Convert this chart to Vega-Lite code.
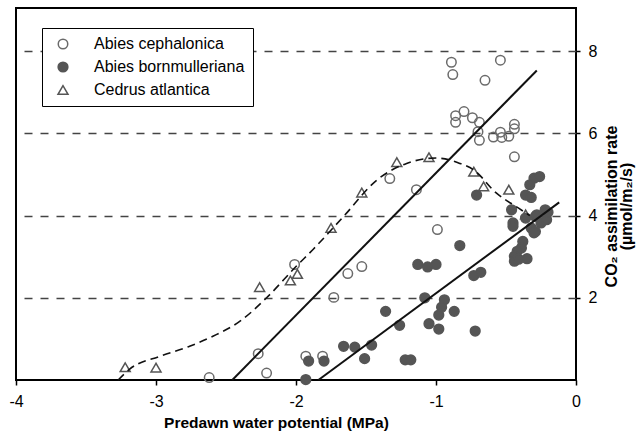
{
  "$schema": "https://vega.github.io/schema/vega-lite/v6.json",
  "width": 560,
  "height": 372,
  "autosize": {"type": "none"},
  "padding": {"left": 16, "top": 8, "right": 64, "bottom": 57},
  "config": {
    "font": "Liberation Sans",
    "view": {"stroke": "#000000", "strokeWidth": 2}
  },
  "datasets": {
    "obs": [
      {"species": "Abies cephalonica", "psi": -0.89, "a": 7.73},
      {"species": "Abies cephalonica", "psi": -0.88, "a": 7.43},
      {"species": "Abies cephalonica", "psi": -0.54, "a": 7.78},
      {"species": "Abies cephalonica", "psi": -0.65, "a": 7.29},
      {"species": "Abies cephalonica", "psi": -0.86, "a": 6.43},
      {"species": "Abies cephalonica", "psi": -0.80, "a": 6.53},
      {"species": "Abies cephalonica", "psi": -0.86, "a": 6.27},
      {"species": "Abies cephalonica", "psi": -0.74, "a": 6.38},
      {"species": "Abies cephalonica", "psi": -0.69, "a": 6.27},
      {"species": "Abies cephalonica", "psi": -0.70, "a": 6.04},
      {"species": "Abies cephalonica", "psi": -0.69, "a": 5.83},
      {"species": "Abies cephalonica", "psi": -0.59, "a": 5.91},
      {"species": "Abies cephalonica", "psi": -0.54, "a": 6.03},
      {"species": "Abies cephalonica", "psi": -0.53, "a": 5.90},
      {"species": "Abies cephalonica", "psi": -0.48, "a": 5.93},
      {"species": "Abies cephalonica", "psi": -0.44, "a": 6.22},
      {"species": "Abies cephalonica", "psi": -0.44, "a": 6.11},
      {"species": "Abies cephalonica", "psi": -0.44, "a": 5.43},
      {"species": "Abies cephalonica", "psi": -1.33, "a": 4.90},
      {"species": "Abies cephalonica", "psi": -1.14, "a": 4.63},
      {"species": "Abies cephalonica", "psi": -0.99, "a": 3.66},
      {"species": "Abies cephalonica", "psi": -2.01, "a": 2.81},
      {"species": "Abies cephalonica", "psi": -1.63, "a": 2.59},
      {"species": "Abies cephalonica", "psi": -1.53, "a": 2.76},
      {"species": "Abies cephalonica", "psi": -1.73, "a": 2.01},
      {"species": "Abies cephalonica", "psi": -2.27, "a": 0.64},
      {"species": "Abies cephalonica", "psi": -2.21, "a": 0.17},
      {"species": "Abies cephalonica", "psi": -2.62, "a": 0.06},
      {"species": "Abies cephalonica", "psi": -1.93, "a": 0.58},
      {"species": "Abies cephalonica", "psi": -1.81, "a": 0.58},
      {"species": "Abies bornmulleriana", "psi": -1.13, "a": 2.81},
      {"species": "Abies bornmulleriana", "psi": -1.06, "a": 2.75},
      {"species": "Abies bornmulleriana", "psi": -1.00, "a": 2.81},
      {"species": "Abies bornmulleriana", "psi": -0.73, "a": 2.54},
      {"species": "Abies bornmulleriana", "psi": -0.68, "a": 2.62},
      {"species": "Abies bornmulleriana", "psi": -1.08, "a": 2.00},
      {"species": "Abies bornmulleriana", "psi": -0.94, "a": 1.95},
      {"species": "Abies bornmulleriana", "psi": -0.96, "a": 1.77},
      {"species": "Abies bornmulleriana", "psi": -0.98, "a": 1.58},
      {"species": "Abies bornmulleriana", "psi": -0.87, "a": 1.67},
      {"species": "Abies bornmulleriana", "psi": -1.36, "a": 1.67},
      {"species": "Abies bornmulleriana", "psi": -1.26, "a": 1.33},
      {"species": "Abies bornmulleriana", "psi": -1.05, "a": 1.37},
      {"species": "Abies bornmulleriana", "psi": -0.98, "a": 1.24},
      {"species": "Abies bornmulleriana", "psi": -0.72, "a": 1.19},
      {"species": "Abies bornmulleriana", "psi": -1.66, "a": 0.82},
      {"species": "Abies bornmulleriana", "psi": -1.58, "a": 0.80},
      {"species": "Abies bornmulleriana", "psi": -1.46, "a": 0.85},
      {"species": "Abies bornmulleriana", "psi": -1.51, "a": 0.52},
      {"species": "Abies bornmulleriana", "psi": -1.22, "a": 0.49},
      {"species": "Abies bornmulleriana", "psi": -1.18, "a": 0.49},
      {"species": "Abies bornmulleriana", "psi": -0.83, "a": 3.27},
      {"species": "Abies bornmulleriana", "psi": -1.91, "a": 0.46},
      {"species": "Abies bornmulleriana", "psi": -1.80, "a": 0.46},
      {"species": "Abies bornmulleriana", "psi": -1.93, "a": 0.01},
      {"species": "Abies bornmulleriana", "psi": -0.71, "a": 4.50},
      {"species": "Abies bornmulleriana", "psi": -0.30, "a": 4.91},
      {"species": "Abies bornmulleriana", "psi": -0.26, "a": 4.95},
      {"species": "Abies bornmulleriana", "psi": -0.33, "a": 4.75},
      {"species": "Abies bornmulleriana", "psi": -0.36, "a": 4.50},
      {"species": "Abies bornmulleriana", "psi": -0.32, "a": 4.44},
      {"species": "Abies bornmulleriana", "psi": -0.46, "a": 4.14},
      {"species": "Abies bornmulleriana", "psi": -0.22, "a": 4.14},
      {"species": "Abies bornmulleriana", "psi": -0.45, "a": 3.82},
      {"species": "Abies bornmulleriana", "psi": -0.45, "a": 3.74},
      {"species": "Abies bornmulleriana", "psi": -0.36, "a": 3.94},
      {"species": "Abies bornmulleriana", "psi": -0.29, "a": 3.98},
      {"species": "Abies bornmulleriana", "psi": -0.25, "a": 3.82},
      {"species": "Abies bornmulleriana", "psi": -0.32, "a": 3.70},
      {"species": "Abies bornmulleriana", "psi": -0.29, "a": 3.61},
      {"species": "Abies bornmulleriana", "psi": -0.38, "a": 3.37},
      {"species": "Abies bornmulleriana", "psi": -0.39, "a": 3.21},
      {"species": "Abies bornmulleriana", "psi": -0.42, "a": 3.13},
      {"species": "Abies bornmulleriana", "psi": -0.44, "a": 3.01},
      {"species": "Abies bornmulleriana", "psi": -0.44, "a": 2.89},
      {"species": "Abies bornmulleriana", "psi": -0.35, "a": 2.95},
      {"species": "Abies bornmulleriana", "psi": -0.41, "a": 2.94},
      {"species": "Abies bornmulleriana", "psi": -0.30, "a": 3.58},
      {"species": "Abies bornmulleriana", "psi": -0.21, "a": 3.90},
      {"species": "Abies bornmulleriana", "psi": -0.28, "a": 4.02},
      {"species": "Abies bornmulleriana", "psi": -0.20, "a": 4.08},
      {"species": "Cedrus atlantica", "psi": -3.22, "a": 0.31},
      {"species": "Cedrus atlantica", "psi": -3.00, "a": 0.30},
      {"species": "Cedrus atlantica", "psi": -2.26, "a": 2.26},
      {"species": "Cedrus atlantica", "psi": -2.04, "a": 2.42},
      {"species": "Cedrus atlantica", "psi": -1.99, "a": 2.58},
      {"species": "Cedrus atlantica", "psi": -1.75, "a": 3.70},
      {"species": "Cedrus atlantica", "psi": -1.53, "a": 4.56},
      {"species": "Cedrus atlantica", "psi": -1.28, "a": 5.30},
      {"species": "Cedrus atlantica", "psi": -1.05, "a": 5.42},
      {"species": "Cedrus atlantica", "psi": -0.73, "a": 5.07},
      {"species": "Cedrus atlantica", "psi": -0.66, "a": 4.71},
      {"species": "Cedrus atlantica", "psi": -0.48, "a": 4.63},
      {"species": "Cedrus atlantica", "psi": -0.36, "a": 4.03}
    ],
    "fits": [
      {"fit": "Abies cephalonica", "psi": -2.455, "a": 0.0},
      {"fit": "Abies cephalonica", "psi": -0.28, "a": 7.53},
      {"fit": "Abies bornmulleriana", "psi": -1.84, "a": 0.0},
      {"fit": "Abies bornmulleriana", "psi": -0.12, "a": 4.32}
    ],
    "curve": [
      {"psi": -3.27, "a": 0.0},
      {"psi": -3.19, "a": 0.26},
      {"psi": -2.97, "a": 0.58},
      {"psi": -2.76, "a": 0.82},
      {"psi": -2.59, "a": 1.07},
      {"psi": -2.40, "a": 1.43},
      {"psi": -2.21, "a": 2.0},
      {"psi": -2.0, "a": 2.76},
      {"psi": -1.88, "a": 3.17},
      {"psi": -1.66, "a": 3.98},
      {"psi": -1.42, "a": 4.87},
      {"psi": -1.21, "a": 5.27},
      {"psi": -1.0, "a": 5.40},
      {"psi": -0.83, "a": 5.27},
      {"psi": -0.73, "a": 5.11},
      {"psi": -0.57, "a": 4.55},
      {"psi": -0.41, "a": 4.18},
      {"psi": -0.33, "a": 4.0}
    ]
  },
  "layer": [
    {
      "data": {"name": "obs"},
      "mark": {"type": "point", "strokeWidth": 1.5, "opacity": 1},
      "encoding": {
        "x": {
          "field": "psi",
          "type": "quantitative",
          "scale": {"domain": [-4, 0], "nice": false, "zero": false},
          "axis": {
            "orient": "bottom",
            "values": [-4, -3, -2, -1, 0],
            "labelExpr": "'' + datum.value",
            "grid": false,
            "domain": false,
            "ticks": true,
            "tickSize": 5,
            "tickColor": "#000000",
            "tickWidth": 1.5,
            "labelFlush": false,
            "labelFontSize": 16,
            "labelColor": "#000000",
            "labelPadding": 8,
            "title": "Predawn water potential (MPa)",
            "titleFontSize": 15.5,
            "titleFontWeight": "bold",
            "titleColor": "#000000",
            "titleAlign": "center",
            "titleBaseline": "alphabetic",
            "titleX": 260,
            "titleY": 47
          }
        },
        "y": {
          "field": "a",
          "type": "quantitative",
          "scale": {"domain": [0, 9.05], "nice": false, "zero": false},
          "axis": {
            "orient": "right",
            "values": [2, 4, 6, 8],
            "grid": true,
            "gridDash": [8, 8],
            "gridColor": "#444444",
            "gridWidth": 1.5,
            "domain": false,
            "ticks": true,
            "tickSize": 4,
            "tickColor": "#000000",
            "tickWidth": 1.5,
            "labelFlush": false,
            "labelFontSize": 16,
            "labelColor": "#000000",
            "labelPadding": 8,
            "title": ["CO₂ assimilation rate", "(µmol/m₂/s)"],
            "titleFontSize": 16,
            "titleFontWeight": "bold",
            "titleColor": "#000000",
            "titleAngle": 270,
            "titleAlign": "center",
            "titleBaseline": "top",
            "titleLineHeight": 15,
            "titleX": 27,
            "titleY": 198
          }
        },
        "shape": {
          "field": "species",
          "type": "nominal",
          "scale": {
            "domain": ["Abies cephalonica", "Abies bornmulleriana", "Cedrus atlantica"],
            "range": ["circle", "circle", "triangle-up"]
          },
          "legend": {
            "title": null,
            "orient": "none",
            "legendX": 26,
            "legendY": 20,
            "fillColor": "#ffffff",
            "strokeColor": "#000000",
            "padding": 8,
            "rowPadding": 7,
            "symbolOffset": 5,
            "labelOffset": 23,
            "labelFontSize": 16,
            "labelColor": "#000000",
            "labelExpr": "datum.label + '\u00a0\u00a0\u00a0'",
            "symbolStrokeWidth": 1.5
          }
        },
        "fill": {
          "field": "species",
          "type": "nominal",
          "scale": {
            "domain": ["Abies cephalonica", "Abies bornmulleriana", "Cedrus atlantica"],
            "range": ["transparent", "#555555", "transparent"]
          }
        },
        "stroke": {
          "field": "species",
          "type": "nominal",
          "scale": {
            "domain": ["Abies cephalonica", "Abies bornmulleriana", "Cedrus atlantica"],
            "range": ["#6a6a6a", "#555555", "#555555"]
          }
        },
        "size": {
          "field": "species",
          "type": "nominal",
          "scale": {
            "domain": ["Abies cephalonica", "Abies bornmulleriana", "Cedrus atlantica"],
            "range": [90, 100, 40]
          }
        }
      }
    },
    {
      "data": {"name": "fits"},
      "mark": {"type": "line", "color": "#111111", "strokeWidth": 2},
      "encoding": {
        "x": {"field": "psi", "type": "quantitative"},
        "y": {"field": "a", "type": "quantitative"},
        "detail": {"field": "fit", "type": "nominal"}
      }
    },
    {
      "data": {"name": "curve"},
      "mark": {
        "type": "line",
        "color": "#111111",
        "strokeWidth": 1.6,
        "strokeDash": [8, 5],
        "interpolate": "monotone"
      },
      "encoding": {
        "x": {"field": "psi", "type": "quantitative"},
        "y": {"field": "a", "type": "quantitative"}
      }
    }
  ]
}
